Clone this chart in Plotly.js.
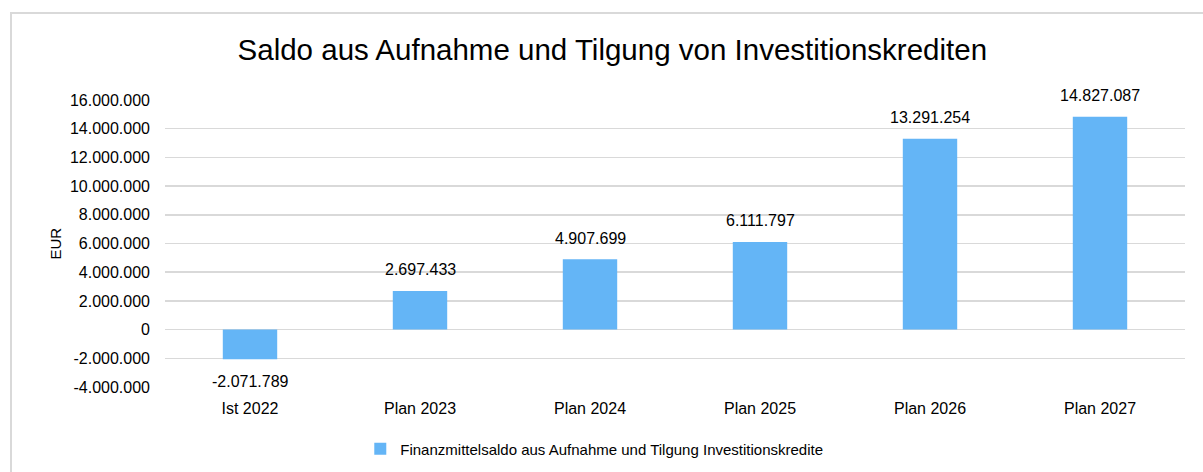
<!DOCTYPE html>
<html>
<head>
<meta charset="utf-8">
<script src="https://cdn.plot.ly/plotly-3.0.1.min.js"></script>
<style>
  html, body { margin: 0; padding: 0; background: #fff; overflow: hidden; }
  #wrap { position: relative; width: 1203px; height: 472px; }
  #chart { width: 1203px; height: 472px; }
  #frame { position: absolute; left: 10px; top: 12px; width: 1300px; height: 600px;
           border: 2px solid #d9d9d9; pointer-events: none; }
</style>
</head>
<body>
<div id="wrap">
  <div id="chart"></div>
  <div id="frame"></div>
</div>
<script>
const categories = ["Ist 2022", "Plan 2023", "Plan 2024", "Plan 2025", "Plan 2026", "Plan 2027"];
const values = [-2071789, 2697433, 4907699, 6111797, 13291254, 14827087];
const tickValues = [-4000000, -2000000, 0, 2000000, 4000000, 6000000, 8000000, 10000000, 12000000, 14000000, 16000000];
const seriesName = "Finanzmittelsaldo aus Aufnahme und Tilgung Investitionskredite";
const chartTitle = "Saldo aus Aufnahme und Tilgung von Investitionskrediten";
const yTitle = "EUR";

function fmtDE(v) {
  const neg = v < 0;
  const s = Math.abs(Math.round(v)).toString().replace(/\B(?=(\d{3})+(?!\d))/g, ".");
  return (neg ? "-" : "") + s;
}

const font = "Arial, 'Liberation Sans', sans-serif";

const trace = {
  type: "bar",
  x: categories,
  y: values,
  name: seriesName,
  marker: { color: "#64b5f6" },
  hoverinfo: "none"
};

const annotations = categories.map((c, i) => ({
  x: c, y: values[i], xref: "x", yref: "y",
  text: fmtDE(values[i]),
  showarrow: false,
  yanchor: "middle",
  yshift: values[i] >= 0 ? 21 : -22,
  font: { family: font, size: 16, color: "#000" }
}));
annotations.push({
  xref: "paper", yref: "paper", x: -0.1078, y: 0.5,
  text: yTitle, textangle: -90, showarrow: false,
  xanchor: "center", yanchor: "middle",
  font: { family: font, size: 15, color: "#000" }
});

const layout = {
  width: 1203, height: 472,
  margin: { l: 165, r: 18, t: 100, b: 85 },
  paper_bgcolor: "#fff", plot_bgcolor: "#fff",
  font: { family: font, size: 16, color: "#000" },
  title: {
    text: chartTitle,
    font: { family: font, size: 29.5, color: "#000" },
    x: 0.509, xref: "container", xanchor: "center",
    y: (472 - 50) / 472, yref: "container", yanchor: "middle"
  },
  bargap: 0.68,
  showlegend: true,
  legend: {
    orientation: "h",
    xref: "container", yref: "container",
    x: 0.494, xanchor: "center",
    y: (472 - 449) / 472, yanchor: "middle",
    font: { family: font, size: 15, color: "#000" },
    itemwidth: 30
  },
  xaxis: {
    type: "category",
    showgrid: false, zeroline: false, showline: false,
    ticks: "", ticklabelstandoff: 10,
    tickfont: { family: font, size: 16, color: "#000" },
    fixedrange: true
  },
  yaxis: {
    range: [-4000000, 16000000],
    tickvals: tickValues,
    ticktext: tickValues.map(fmtDE),
    showgrid: true, gridcolor: "#d9d9d9", gridwidth: 1.5,
    zeroline: true, zerolinecolor: "#d9d9d9", zerolinewidth: 1.5,
    showline: false, ticks: "", ticklabelstandoff: 14,
    tickfont: { family: font, size: 16, color: "#000" },
    fixedrange: true
  },
  annotations: annotations
};

Plotly.newPlot("chart", [trace], layout, { displayModeBar: false, staticPlot: true });
</script>
</body>
</html>
